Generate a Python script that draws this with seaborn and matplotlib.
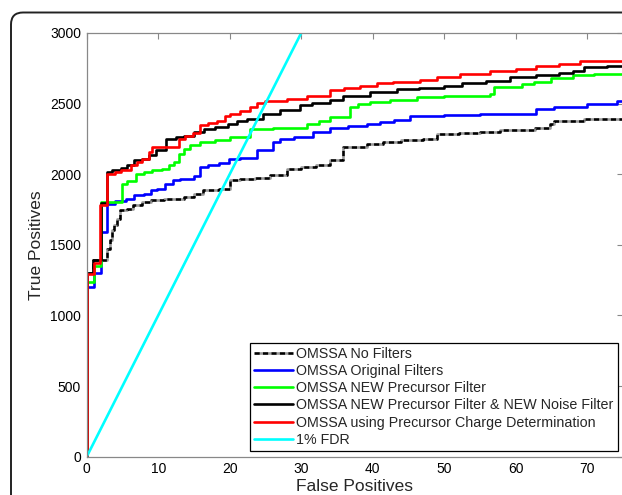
import matplotlib
matplotlib.use("Agg")
import matplotlib.pyplot as plt
from matplotlib.patches import FancyBboxPatch
import seaborn as sns
import pandas as pd

# False positives (x) and true positives (y) for each search configuration,
# listed as step points (value holds until the next false-positive count).
fp_no_filters = [0, 0, 0.93, 2.9, 3.2, 3.5, 3.8, 4.2, 4.7, 5.7, 6.5, 7.8, 9.0, 10.8, 13.6,
                 15.0, 16.3, 18.5, 20.05, 21.5, 23.5, 25.6, 28.0, 30.0, 32.0, 34.0, 35.9,
                 39.2, 41.5, 44.0, 47.1, 49.0, 52.0, 55.0, 57.8, 62.7, 64.8, 65.3, 69.5, 75]
tp_no_filters = [0, 1297, 1391, 1473, 1532, 1603, 1640, 1685, 1744, 1756, 1780, 1803, 1815,
                 1827, 1838, 1860, 1885, 1895, 1956, 1968, 1975, 1992, 2039, 2050, 2062,
                 2098, 2192, 2216, 2230, 2240, 2251, 2286, 2295, 2300, 2310, 2329, 2357,
                 2376, 2388, 2392]

fp_original = [0, 0, 1.0, 2.0, 2.9, 4.0, 5.5, 6.6, 8.0, 8.95, 9.9, 11.0, 12.0, 13.0, 15.0,
               15.85, 17.0, 18.5, 19.9, 21.5, 23.8, 26.1, 27.0, 29.0, 31.7, 34.0, 36.5,
               39.2, 41.0, 43.0, 45.2, 50.0, 55.0, 62.9, 65.3, 69.9, 74.1, 75]
tp_original = [0, 1200, 1297, 1591, 1791, 1810, 1827, 1850, 1862, 1885, 1895, 1933, 1956,
               1968, 1985, 2050, 2062, 2079, 2110, 2115, 2168, 2227, 2251, 2265, 2298,
               2330, 2340, 2357, 2369, 2385, 2410, 2416, 2425, 2463, 2479, 2498, 2517, 2517]

fp_precursor = [0, 0, 1.0, 2.0, 5.0, 5.6, 6.85, 8.0, 9.2, 10.5, 11.5, 12.2, 12.9, 13.6,
                14.5, 15.9, 18.0, 20.1, 22.85, 26.0, 30.8, 32.5, 34.0, 36.8, 38.0, 39.6,
                42.4, 46.2, 50.0, 56.4, 56.9, 60.9, 62.5, 65.0, 68.0, 71.0, 75]
tp_precursor = [0, 1240, 1348, 1803, 1933, 1950, 2004, 2015, 2027, 2040, 2062, 2086, 2145,
                2180, 2204, 2227, 2245, 2262, 2322, 2330, 2357, 2380, 2404, 2474, 2498,
                2510, 2522, 2545, 2555, 2569, 2616, 2640, 2651, 2680, 2699, 2711, 2711]

fp_noise = [0, 0, 0.93, 1.96, 2.88, 3.5, 4.75, 5.6, 6.6, 7.8, 8.7, 9.65, 11.05, 12.5, 13.6,
            15.0, 16.4, 18.0, 19.7, 21.0, 22.4, 24.7, 27.0, 29.8, 31.5, 34.0, 35.9, 39.6,
            43.4, 46.5, 49.9, 52.5, 55.9, 59.2, 62.9, 66.0, 68.0, 69.5, 72.7, 75]
tp_noise = [0, 1297, 1396, 1796, 2015, 2027, 2045, 2062, 2098, 2110, 2133, 2168, 2251, 2260,
            2274, 2298, 2322, 2335, 2357, 2380, 2392, 2428, 2456, 2490, 2505, 2522, 2557,
            2581, 2600, 2610, 2628, 2645, 2663, 2687, 2699, 2715, 2734, 2757, 2769, 2769]

fp_charge = [0, 0, 1.0, 1.9, 2.85, 4.0, 4.75, 6.15, 7.1, 7.8, 8.7, 9.2, 12.9, 13.8, 14.9,
             15.9, 17.0, 18.2, 19.4, 20.0, 21.4, 22.8, 23.8, 25.0, 28.0, 30.8, 34.0, 36.0,
             38.2, 40.6, 42.9, 46.6, 49.0, 52.2, 56.4, 60.0, 62.9, 66.0, 69.0, 72.0, 75]
tp_charge = [0, 1290, 1370, 1780, 2005, 2015, 2032, 2062, 2086, 2110, 2156, 2192, 2251,
             2270, 2290, 2345, 2360, 2380, 2410, 2428, 2445, 2475, 2505, 2520, 2534, 2557,
             2593, 2610, 2628, 2645, 2655, 2670, 2690, 2711, 2734, 2745, 2769, 2780, 2798,
             2805, 2805]

# 1% false discovery rate: TP = 100 * FP
fdr_fp = [0, 30]
fdr_tp = [0, 3000]

labels = [
    "OMSSA No Filters",
    "OMSSA Original Filters",
    "OMSSA NEW Precursor Filter",
    "OMSSA NEW Precursor Filter & NEW Noise Filter",
    "OMSSA using Precursor Charge Determination",
    "1% FDR",
]
colors = ["black", "#0000ff", "#00ff00", "black", "#ff0000", "#00ffff"]

x_ticks = [0, 10, 20, 30, 40, 50, 60, 70]
y_ticks = [0, 500, 1000, 1500, 2000, 2500, 3000]

sns.set_theme(style="white")
plt.rcParams["font.family"] = ["Liberation Sans", "DejaVu Sans"]

fig = plt.figure(figsize=(6.22, 4.95), dpi=100)
ax = fig.add_axes([0.1394, 0.0774, 0.8622, 0.856])

curves = [
    (fp_no_filters, tp_no_filters),
    (fp_original, tp_original),
    (fp_precursor, tp_precursor),
    (fp_noise, tp_noise),
    (fp_charge, tp_charge),
]
for i, (fp, tp) in enumerate(curves):
    df = pd.DataFrame({"fp": fp, "tp": tp})
    extra = {}
    if i == 0:
        extra = dict(linestyle=(0, (2.0, 1.2)), gapcolor="#9a9a9a")
    sns.lineplot(data=df, x="fp", y="tp", ax=ax, estimator=None, sort=False,
                 drawstyle="steps-post", color=colors[i], linewidth=1.9,
                 label=labels[i], **extra)

sns.lineplot(x=fdr_fp, y=fdr_tp, ax=ax, estimator=None, color=colors[5],
             linewidth=1.9, label=labels[5])

ax.set_xlim(0, 75)
ax.set_ylim(0, 3000)
ax.set_xticks(x_ticks)
ax.set_yticks(y_ticks)
ax.set_xlabel("False Positives", fontsize=12.5, labelpad=2)
ax.set_ylabel("True Positives", fontsize=12.5, labelpad=4)

ax.tick_params(direction="in", length=4, width=0.8, color="#888888",
               top=True, right=True, labelsize=10, pad=4, labelcolor="black")
for s in ax.spines.values():
    s.set_color("#888888")
    s.set_linewidth(0.9)

leg = ax.legend(loc="lower right", bbox_to_anchor=(0.9907, 0.0135), borderaxespad=0,
                fontsize=10.3, handlelength=2.75, handletextpad=0.22,
                labelspacing=0.22, borderpad=0.3, fancybox=False, framealpha=1)
leg.get_frame().set_edgecolor("black")
leg.get_frame().set_linewidth(0.9)

# rounded outer panel border
frame = FancyBboxPatch((0.11, -0.6), 7.0, 4.825 + 0.6,
                       boxstyle="round,pad=0,rounding_size=0.12",
                       transform=fig.dpi_scale_trans, fill=False,
                       edgecolor="#222222", linewidth=1.4)
fig.add_artist(frame)

fig.savefig("out.png", dpi=100)
